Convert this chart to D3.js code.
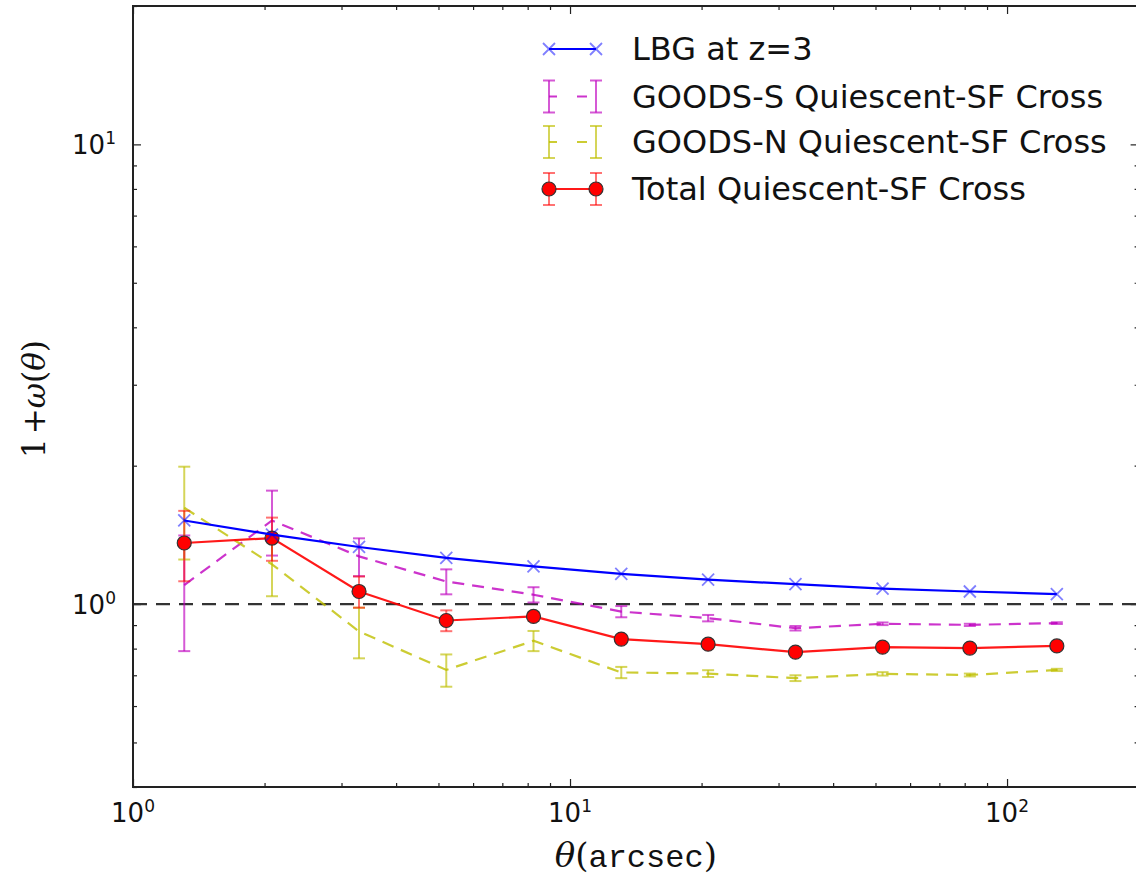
<!DOCTYPE html>
<html>
<head>
<meta charset="utf-8">
<script src="https://cdn.jsdelivr.net/npm/d3@7"></script>
<style>
  html, body { margin: 0; padding: 0; background: #fff; }
  svg { display: block; }
</style>
</head>
<body>
<svg id="chart" width="1136" height="879"></svg>
<script>
// ---- data ----
const theta = [1.31, 2.08, 3.29, 5.21, 8.25, 13.1, 20.7, 32.8, 51.9, 82.2, 130];
const lbg = [1.52, 1.416, 1.331, 1.26, 1.208, 1.163, 1.13, 1.105, 1.08, 1.065, 1.051];
const goodsS = [1.10, 1.52, 1.27, 1.12, 1.048, 0.963, 0.932, 0.886, 0.906, 0.901, 0.909];
const goodsSErr = [0.31, 0.245, 0.12, 0.07, 0.04, 0.027, 0.015, 0.01, 0.006, 0.005, 0.004];
const goodsN = [1.62, 1.22, 0.872, 0.719, 0.832, 0.71, 0.706, 0.69, 0.705, 0.701, 0.719];
const goodsNErr = [0.37, 0.18, 0.11, 0.058, 0.042, 0.02, 0.012, 0.01, 0.006, 0.005, 0.004];
const total = [1.358, 1.392, 1.065, 0.921, 0.94, 0.839, 0.818, 0.786, 0.806, 0.802, 0.811];
const totalErr = [0.237, 0.15, 0.083, 0.048, 0.02, 0.015, 0.01, 0.008, 0.005, 0.005, 0.005];
const legendLabels = ["LBG at z=3", "GOODS-S Quiescent-SF Cross", "GOODS-N Quiescent-SF Cross", "Total Quiescent-SF Cross"];
const xMajor = [1, 10, 100];
const xMajorExp = ["0", "1", "2"];
const yMajor = [1, 10];
const yMajorExp = ["0", "1"];
const xDomain = [1, 200];
const yDomain = [0.4, 20];

// ---- layout ----
const L = 133, T = 6, R = 1138.6, B = 787;
const svg = d3.select("#chart");
const x = d3.scaleLog().domain(xDomain).range([L, R]);
const y = d3.scaleLog().domain(yDomain).range([B, T]);

const minorX = [];
for (let d = 1; d <= 100; d *= 10) for (let k = 2; k <= 9; k++) if (d * k <= 200) minorX.push(d * k);
minorX.push(200);
const minorY = [];
for (let d = 0.1; d <= 10; d *= 10) for (let k = 2; k <= 9; k++) { const v = +(d * k).toPrecision(3); if (v >= 0.4 && v <= 20) minorY.push(v); }

function ticks(axisGen, vals, size, transform) {
  const g = svg.append("g").attr("transform", transform)
    .call(axisGen.tickValues(vals).tickSizeInner(-size).tickSizeOuter(0).tickFormat(""));
  g.select(".domain").remove();
  g.selectAll(".tick line").attr("stroke", "#222").attr("stroke-width", 1.2);
  return g;
}
ticks(d3.axisBottom(x), xMajor, 8, `translate(0,${B})`);
ticks(d3.axisBottom(x), minorX, 4, `translate(0,${B})`);
ticks(d3.axisTop(x), xMajor, 8, `translate(0,${T})`);
ticks(d3.axisTop(x), minorX, 4, `translate(0,${T})`);
ticks(d3.axisLeft(y), yMajor, 8, `translate(${L},0)`);
ticks(d3.axisLeft(y), minorY, 4, `translate(${L},0)`);
ticks(d3.axisRight(y), yMajor, 8, `translate(${R},0)`);
ticks(d3.axisRight(y), minorY, 4, `translate(${R},0)`);

// reference line y=1
svg.append("line")
  .attr("x1", L).attr("x2", R).attr("y1", y(1)).attr("y2", y(1))
  .attr("stroke", "#333").attr("stroke-width", 2.3).attr("stroke-dasharray", "14,9");

const line = d3.line().x(d => x(d[0])).y(d => y(d[1]));

function errorSeries(vals, errs, color, opts) {
  const g = svg.append("g");
  const pts = theta.map((t, i) => [t, vals[i]]);
  g.append("path").attr("d", line(pts)).attr("fill", "none")
    .attr("stroke", color).attr("stroke-width", 2.2)
    .attr("stroke-opacity", opts.lineOpacity)
    .attr("stroke-dasharray", opts.dash || null);
  theta.forEach((t, i) => {
    const cx = x(t), y0 = y(vals[i] - errs[i]), y1 = y(vals[i] + errs[i]);
    g.append("line").attr("x1", cx).attr("x2", cx).attr("y1", y0).attr("y2", y1)
      .attr("stroke", color).attr("stroke-width", 2).attr("stroke-opacity", opts.barOpacity);
    [y0, y1].forEach(yy => g.append("line").attr("x1", cx - 6).attr("x2", cx + 6).attr("y1", yy).attr("y2", yy)
      .attr("stroke", color).attr("stroke-width", 2).attr("stroke-opacity", opts.barOpacity));
  });
  return g;
}

errorSeries(goodsS, goodsSErr, "#bf00bf", { dash: "12,8", lineOpacity: 0.8, barOpacity: 0.65 });
errorSeries(goodsN, goodsNErr, "#bfbf00", { dash: "12,8", lineOpacity: 0.8, barOpacity: 0.65 });
const tg = errorSeries(total, totalErr, "#ff0000", { lineOpacity: 0.9, barOpacity: 0.55 });
tg.selectAll("circle.pt").data(theta).enter().append("circle")
  .attr("cx", d => x(d)).attr("cy", (d, i) => y(total[i])).attr("r", 7)
  .attr("fill", "#ff0000").attr("stroke", "#333").attr("stroke-width", 1.2);

// LBG
const lg = svg.append("g");
lg.append("path").attr("d", line(theta.map((t, i) => [t, lbg[i]]))).attr("fill", "none")
  .attr("stroke", "#0000ff").attr("stroke-width", 2.2);
function xMark(g, cx, cy) {
  const s = 6;
  g.append("path").attr("d", `M${cx - s},${cy - s}L${cx + s},${cy + s}M${cx - s},${cy + s}L${cx + s},${cy - s}`)
    .attr("stroke", "#0000ff").attr("stroke-opacity", 0.5).attr("stroke-width", 1.8).attr("fill", "none");
}
theta.forEach((t, i) => xMark(lg, x(t), y(lbg[i])));

// frame
svg.append("rect").attr("x", L).attr("y", T).attr("width", R - L).attr("height", B - T)
  .attr("fill", "none").attr("stroke", "#222").attr("stroke-width", 2);

// tick labels
const tickFont = "DejaVu Sans";
xMajor.forEach((v, i) => {
  const t = svg.append("text").attr("x", x(v)).attr("y", 822).attr("text-anchor", "middle")
    .attr("font-family", tickFont).attr("font-size", 26).attr("fill", "#111");
  t.append("tspan").text("10");
  t.append("tspan").attr("dy", -10).attr("font-size", 17).text(xMajorExp[i]);
});
yMajor.forEach((v, i) => {
  const t = svg.append("text").attr("x", 116).attr("y", y(v) + 10).attr("text-anchor", "end")
    .attr("font-family", tickFont).attr("font-size", 26).attr("fill", "#111");
  t.append("tspan").text("10");
  t.append("tspan").attr("dy", -10).attr("font-size", 17).text(yMajorExp[i]);
});

// axis labels
const xl = svg.append("text").attr("x", (L + R) / 2).attr("y", 867).attr("text-anchor", "middle")
  .attr("font-family", "DejaVu Serif").attr("font-size", 34).attr("fill", "#111");
xl.append("tspan").attr("font-style", "italic").text("θ");
xl.append("tspan").text("(");
xl.append("tspan").attr("font-family", "Liberation Mono").attr("font-size", 32).text("arcsec");
xl.append("tspan").text(")");

const yl = svg.append("text").attr("transform", "translate(45,399) rotate(-90)").attr("text-anchor", "middle")
  .attr("font-family", "DejaVu Serif").attr("font-size", 31).attr("fill", "#111");
yl.append("tspan").text("1");
yl.append("tspan").attr("dx", 4).text("+");
yl.append("tspan").attr("font-style", "italic").text("ω");
yl.append("tspan").text("(");
yl.append("tspan").attr("font-style", "italic").text("θ");
yl.append("tspan").text(")");

// legend
const lx0 = 549, lx1 = 596, ltx = 632;
const rows = [49, 96.5, 142, 189];
const leg = svg.append("g");
leg.append("line").attr("x1", lx0).attr("x2", lx1).attr("y1", rows[0]).attr("y2", rows[0]).attr("stroke", "#0000ff").attr("stroke-width", 2.2);
xMark(leg, lx0, rows[0]); xMark(leg, lx1, rows[0]);
[["#bf00bf", rows[1]], ["#bfbf00", rows[2]]].forEach(([c, ry]) => {
  leg.append("line").attr("x1", lx0).attr("x2", lx1).attr("y1", ry).attr("y2", ry)
    .attr("stroke", c).attr("stroke-width", 2.2).attr("stroke-opacity", 0.8).attr("stroke-dasharray", "8,20,10,20");
  [lx0, lx1].forEach(cx => {
    leg.append("line").attr("x1", cx).attr("x2", cx).attr("y1", ry - 16).attr("y2", ry + 16).attr("stroke", c).attr("stroke-width", 2).attr("stroke-opacity", 0.65);
    [ry - 16, ry + 16].forEach(yy => leg.append("line").attr("x1", cx - 6).attr("x2", cx + 6).attr("y1", yy).attr("y2", yy).attr("stroke", c).attr("stroke-width", 2).attr("stroke-opacity", 0.65));
  });
});
{
  const ry = rows[3];
  leg.append("line").attr("x1", lx0).attr("x2", lx1).attr("y1", ry).attr("y2", ry).attr("stroke", "#ff0000").attr("stroke-width", 2.2).attr("stroke-opacity", 0.9);
  [lx0, lx1].forEach(cx => {
    leg.append("line").attr("x1", cx).attr("x2", cx).attr("y1", ry - 16).attr("y2", ry + 16).attr("stroke", "#ff0000").attr("stroke-width", 2).attr("stroke-opacity", 0.55);
    [ry - 16, ry + 16].forEach(yy => leg.append("line").attr("x1", cx - 6).attr("x2", cx + 6).attr("y1", yy).attr("y2", yy).attr("stroke", "#ff0000").attr("stroke-width", 2).attr("stroke-opacity", 0.55));
    leg.append("circle").attr("cx", cx).attr("cy", ry).attr("r", 7).attr("fill", "#ff0000").attr("stroke", "#333").attr("stroke-width", 1.2);
  });
}
legendLabels.forEach((s, i) => {
  leg.append("text").attr("x", ltx).attr("y", rows[i] + 11).attr("font-family", "DejaVu Sans")
    .attr("font-size", 32).attr("fill", "#111").text(s);
});
</script>
</body>
</html>
